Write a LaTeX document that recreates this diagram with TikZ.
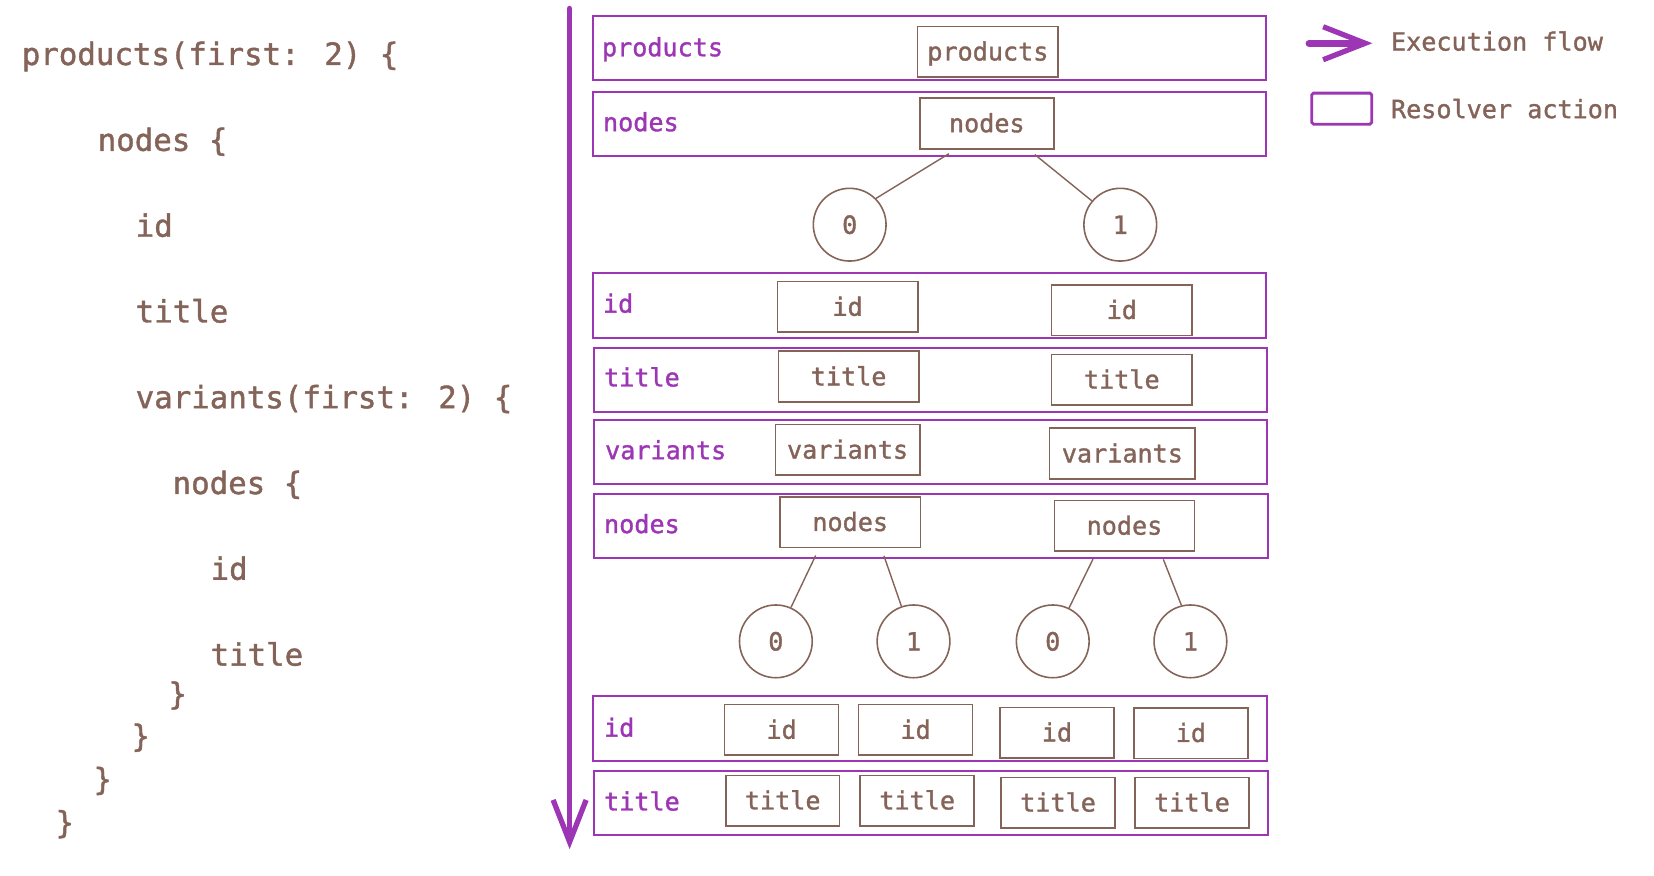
\documentclass[tikz,border=0pt]{standalone}
\usepackage{fontspec}
\newfontfamily\querymono{DejaVu Sans Mono}[FakeBold=1.3]
\usetikzlibrary{arrows.meta}

\definecolor{codebrown}{HTML}{846358}
\definecolor{flowviolet}{HTML}{9C36B5}
\newcommand{\querysize}{\querymono\fontsize{8.75}{10.5}\selectfont}
\newcommand{\labelsize}{\querymono\fontsize{7.15}{8.6}\selectfont}

\begin{document}
\begin{tikzpicture}[x=0.010548cm, y=-0.010548cm,
    code/.style={anchor=base west, inner sep=0pt, text=codebrown, font=\querysize},
    row/.style={draw=flowviolet, line width=0.55pt, minimum width=6.73cm, minimum height=0.643cm, inner sep=0pt},
    lbl/.style={anchor=west, inner sep=0pt, text=flowviolet, font=\labelsize, text height=0.75em, text depth=0.25em},
    box/.style={draw=codebrown, line width=0.45pt, minimum width=1.403cm, minimum height=0.506cm, inner sep=0pt, text=codebrown, font=\labelsize, text height=0.75em, text depth=0.25em},
    small/.style={box, minimum width=1.139cm},
    bubble/.style={circle, draw=codebrown, line width=0.45pt, minimum size=0.727cm, inner sep=0pt, text=codebrown, font=\labelsize},
    edge/.style={draw=codebrown, line width=0.4pt, shorten <=0.08cm},
    flow/.style={draw=flowviolet, line width=1.5pt, line cap=round, line join=round, -{Straight Barb[length=0.42cm, width=0.33cm, line width=1.5pt]}},
    legtext/.style={anchor=west, inner sep=0pt, text=codebrown, font=\labelsize}]
\useasboundingbox (0,0) rectangle (1568,830);

% query text
\node[code] (q1) at (20,61.6) {products(first: 2) \{};
\node[code] (q2) at (92,143) {nodes \{};
\node[code] (q3) at (128,224.4) {id};
\node[code] (q4) at (128,305.7) {title};
\node[code] (q5) at (128,387) {variants(first: 2) \{};
\node[code] (q6) at (163,468.3) {nodes \{};
\node[code] (q7) at (199,549.6) {id};
\node[code] (q8) at (199,631) {title};
\node[code] (c1) at (159,668) {\}};
\node[code] (c2) at (124,708) {\}};
\node[code] (c3) at (88,749) {\}};
\node[code] (c4) at (52,790) {\}};

% execution flow
\coordinate (flowtop) at (540,8);
\coordinate (flowend) at (540,805);
\draw[flow] (flowtop) -- (flowend);

% rows
\node[row] (r1) at (881,45.5) {};
\node[row] (r2) at (881,117.5) {};
\node[row] (r3) at (881,289.5) {};
\node[row] (r4) at (882,360.5) {};
\node[row] (r5) at (882,428.5) {};
\node[row] (r6) at (882.5,498.5) {};
\node[row] (r7) at (881.5,690.5) {};
\node[row] (r8) at (882.5,761.5) {};
\node[lbl] (l1) at (570,45) {products};
\node[lbl] (l2) at (571,116) {nodes};
\node[lbl] (l3) at (571,288) {id};
\node[lbl] (l4) at (572,358) {title};
\node[lbl] (l5) at (573,427) {variants};
\node[lbl] (l6) at (572,497) {nodes};
\node[lbl] (l7) at (572,690) {id};
\node[lbl] (l8) at (572,760) {title};

% resolvers
\node[box] (prod) at (936.5,49) {products};
\node[box, minimum width=1.34cm] (pn) at (935.5,117) {nodes};
\node[bubble] (p0) at (805.5,213) {0};
\node[bubble] (p1) at (1062,213) {1};
\draw[edge] (pn.220) -- (p0.45);
\draw[edge] (pn.-32) -- (p1.140);

\node[box] (id0) at (803.5,291) {id};
\node[box] (id1) at (1063.5,294) {id};
\node[box] (ti0) at (804.5,357) {title};
\node[box] (ti1) at (1063.5,360) {title};
\node[box, minimum width=1.445cm] (va0) at (803.5,426.5) {variants};
\node[box, minimum width=1.455cm] (va1) at (1064,430) {variants};
\node[box] (vn0) at (806,495) {nodes};
\node[box] (vn1) at (1066,498.5) {nodes};

\node[bubble] (v00) at (735.5,608) {0};
\node[bubble] (v01) at (866,608) {1};
\node[bubble] (v10) at (998,608) {0};
\node[bubble] (v11) at (1128.5,608) {1};
\draw[edge] (vn0.220) -- (v00.66);
\draw[edge] (vn0.-40) -- (v01.109);
\draw[edge] (vn1.223) -- (v10.64);
\draw[edge] (vn1.-36) -- (v11.104);

\node[small] (vid00) at (741,692) {id};
\node[small] (vid01) at (868,692) {id};
\node[small] (vid10) at (1002,694.5) {id};
\node[small] (vid11) at (1129,695) {id};
\node[small] (vti00) at (742,759) {title};
\node[small] (vti01) at (869.5,759) {title};
\node[small] (vti10) at (1003,761) {title};
\node[small] (vti11) at (1130,761) {title};

% legend
\coordinate (legA) at (1241,41);
\coordinate (legB) at (1301,41);
\draw[flow, line width=2pt] (legA) -- (legB);
\node[draw=flowviolet, line width=0.8pt, rounded corners=0.5pt, minimum width=0.6cm, minimum height=0.31cm, inner sep=0pt] (legbox) at (1272,103) {};
\node[legtext] (legflow) at (1318,39) {Execution flow};
\node[legtext] (legres) at (1318,103) {Resolver action};
\end{tikzpicture}
\end{document}
